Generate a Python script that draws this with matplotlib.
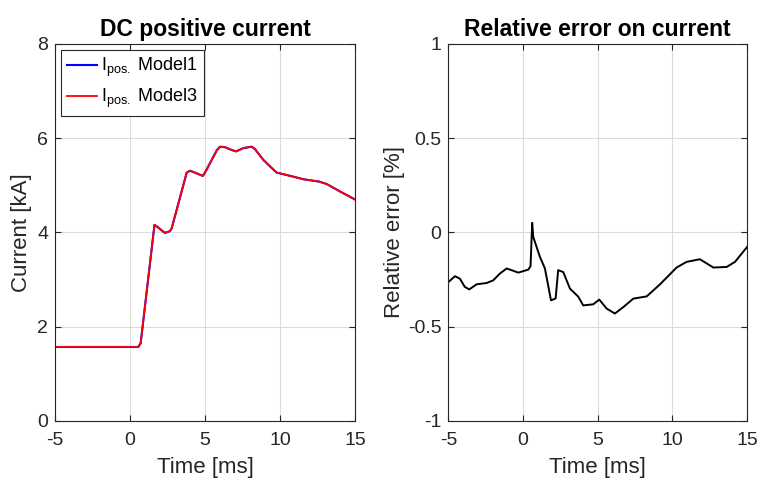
import numpy as np
import matplotlib.pyplot as plt

plt.rcParams['font.family'] = ['Liberation Sans', 'DejaVu Sans']
plt.rcParams['mathtext.fontset'] = 'custom'
plt.rcParams['mathtext.rm'] = 'Liberation Sans'
plt.rcParams['axes.unicode_minus'] = False

# DC positive current [kA] vs time [ms]
t_cur = [-5.0, 0.55, 0.71, 1.63, 1.78, 2.33, 2.67, 2.78, 3.78, 4.0, 4.4, 4.85, 5.0,
         5.78, 6.0, 6.33, 6.78, 7.07, 7.56, 8.11, 8.33, 8.89, 9.44, 9.78, 10.44,
         11.55, 12.6, 13.1, 14.0, 15.0]
i_model1 = [1.57, 1.57, 1.65, 4.16, 4.13, 3.99, 4.03, 4.09, 5.27, 5.31, 5.26, 5.20, 5.27,
            5.74, 5.82, 5.81, 5.75, 5.72, 5.79, 5.82, 5.77, 5.54, 5.37, 5.27, 5.22,
            5.13, 5.08, 5.03, 4.87, 4.70]
i_model3 = [1.57, 1.57, 1.65, 4.16, 4.13, 3.99, 4.03, 4.09, 5.27, 5.31, 5.26, 5.20, 5.27,
            5.74, 5.82, 5.81, 5.75, 5.72, 5.79, 5.82, 5.77, 5.54, 5.37, 5.27, 5.22,
            5.13, 5.08, 5.03, 4.87, 4.70]

# relative error [%] vs time [ms]
t_err = [-5.0, -4.56, -4.23, -3.9, -3.6, -3.11, -2.44, -2.0, -1.55, -1.1, -0.77, -0.32, 0.35, 0.5,
         0.61, 0.68, 1.13, 1.46, 1.87, 2.18, 2.35, 2.69, 3.14, 3.69, 4.03, 4.70, 5.10, 5.60,
         6.15, 6.71, 7.38, 8.28, 9.17, 10.28, 10.95, 11.84, 12.74, 13.63, 14.19, 15.0]
err = [-0.263, -0.232, -0.245, -0.289, -0.302, -0.275, -0.268, -0.254, -0.218, -0.191, -0.2, -0.213, -0.197, -0.179,
       0.051, -0.023, -0.13, -0.19, -0.36, -0.35, -0.20, -0.21, -0.298, -0.34, -0.387, -0.381, -0.356, -0.404,
       -0.43, -0.396, -0.351, -0.339, -0.275, -0.186, -0.156, -0.142, -0.186, -0.183, -0.156, -0.077]

axcol = '#262626'
fig = plt.figure(figsize=(7.6, 4.82), dpi=100)
ax1 = fig.add_axes([0.0724, 0.1266, 0.3947, 0.7822])
ax2 = fig.add_axes([0.590, 0.1266, 0.393, 0.7822])

def style(ax):
    ax.grid(True, color='#dcdcdc', linewidth=0.8)
    ax.set_axisbelow(True)
    for s in ax.spines.values():
        s.set_color(axcol)
        s.set_linewidth(0.8)
    ax.tick_params(direction='in', right=True, top=True, colors=axcol,
                   labelsize=14, length=4, width=0.8)
    ax.tick_params(axis='x', pad=8)
    ax.tick_params(axis='y', pad=5)
    ax.set_xlim(-5, 15)
    ax.set_xticks([-5, 0, 5, 10, 15])
    ax.set_xlabel('Time [ms]', fontsize=16, color=axcol, labelpad=6)

ax1.plot(t_cur, i_model1, color='blue', lw=1.5, label=r'I$_{\mathrm{pos.}}$ Model1')
ax1.plot(t_cur, i_model3, color='red', lw=1.3, label=r'I$_{\mathrm{pos.}}$ Model3')
style(ax1)
ax1.set_ylim(0, 8)
ax1.set_yticks([0, 2, 4, 6, 8])
ax1.set_ylabel('Current [kA]', fontsize=16, color=axcol)
ax1.set_title('DC positive current', fontsize=16.5, fontweight='bold', pad=6)
leg = ax1.legend(loc='upper left', fontsize=13, fancybox=False, framealpha=1,
                 edgecolor=axcol, handlelength=1.7, handletextpad=0.2,
                 borderaxespad=0.35, labelspacing=0.45, borderpad=0.3)
leg.get_frame().set_linewidth(0.8)

ax2.plot(t_err, err, color='black', lw=1.4)
style(ax2)
ax2.set_ylim(-1, 1)
ax2.set_yticks([-1, -0.5, 0, 0.5, 1])
ax2.set_yticklabels(['-1', '-0.5', '0', '0.5', '1'])
ax2.set_ylabel('Relative error [%]', fontsize=16, color=axcol, labelpad=2)
ax2.set_title('Relative error on current', fontsize=16.5, fontweight='bold', pad=6)

fig.savefig('out.png', dpi=100)
